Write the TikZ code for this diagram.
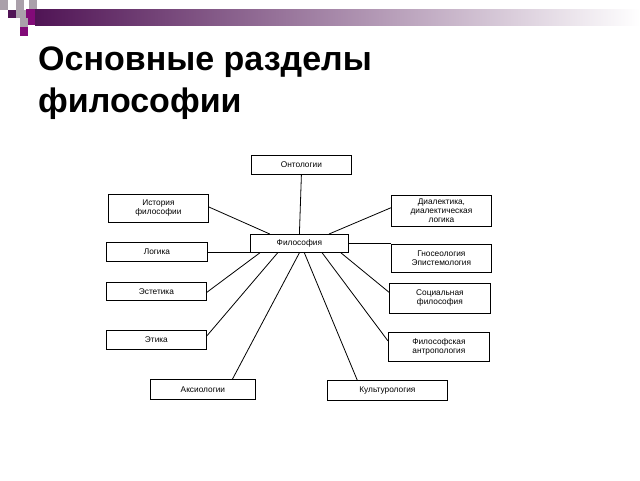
\documentclass[tikz,border=0pt]{standalone}
\usepackage{fontspec}
\setmainfont{Liberation Sans}
\usetikzlibrary{calc}
\definecolor{plum}{RGB}{80,20,85}
\definecolor{sq}{RGB}{130,10,120}
\definecolor{gr}{RGB}{170,160,170}
\begin{document}
\begin{tikzpicture}[x=1pt,y=-1pt,
  box/.style={draw,thick,minimum height=#1,inner sep=1pt,font=\fontsize{8.3}{9}\selectfont,align=center,anchor=north west},
  box/.default=19pt,
  ln/.style={thick}]
\useasboundingbox (0,0) rectangle (640,480);
\fill[white] (0,0) rectangle (640,480);
\shade[left color=plum,right color=white] (35,9) rectangle (640,25);
\fill[gr] (0,0) rectangle (8,10);
\fill[plum] (8,10) rectangle (16,18);
\fill[gr] (16,0) rectangle (24,10);
\fill[gr] (29,0) rectangle (37,9);
\fill[gr] (16,10) rectangle (26,18);
\fill[sq] (26,9) rectangle (35,25);
\fill[gr] (20,18) rectangle (28,27);
\fill[sq] (20,27) rectangle (28,36);
\node[anchor=west,inner sep=0pt,font=\bfseries\fontsize{34}{42}\selectfont,align=left] (title) at (38,83) {Основные разделы\\философии};
\node[box,minimum width=100pt] (ont) at (251,155) {Онтологии};
\node[box=28pt,minimum width=100pt] (ist) at (108,194) {История\\философии};
\node[box=31pt,minimum width=100pt] (dia) at (391,195) {Диалектика,\\диалектическая\\логика};
\node[box=18pt,minimum width=98pt] (phil) at (250,234) {Философия};
\node[box,minimum width=101pt] (log) at (106,242) {Логика};
\node[box=28pt,minimum width=100pt] (gno) at (391,244) {Гносеология\\Эпистемология};
\node[box=18pt,minimum width=100pt] (est) at (106,282) {Эстетика};
\node[box=30pt,minimum width=101pt] (soc) at (389,283) {Социальная\\философия};
\node[box,minimum width=100pt] (eti) at (106,330) {Этика};
\node[box=29pt,minimum width=101pt] (ant) at (388,332) {Философская\\антропология};
\node[box=20pt,minimum width=105pt] (aks) at (150,379) {Аксиологии};
\node[box=20pt,minimum width=120pt] (kul) at (327,380) {Культурология};
\draw[ln] (ont.south) -- (phil.north);
\draw[ln] ($(ist.north east)!0.45!(ist.south east)$) -- ($(phil.north west)!0.2!(phil.north east)$);
\draw[ln] ($(dia.north west)!0.4!(dia.south west)$) -- ($(phil.north west)!0.8!(phil.north east)$);
\draw[ln] (log.east) -- (log.east -| phil.west);
\draw[ln] (phil.east) -- (phil.east -| gno.west);
\draw[ln] ($(est.north east)!0.55!(est.south east)$) -- ($(phil.south west)!0.1!(phil.south east)$);
\draw[ln] ($(eti.north east)!0.3!(eti.south east)$) -- ($(phil.south west)!0.28!(phil.south east)$);
\draw[ln] ($(aks.north west)!0.78!(aks.north east)$) -- ($(phil.south west)!0.5!(phil.south east)$);
\draw[ln] ($(kul.north west)!0.25!(kul.north east)$) -- ($(phil.south west)!0.55!(phil.south east)$);
\draw[ln] ($(soc.north west)!0.3!(soc.south west)$) -- ($(phil.south west)!0.92!(phil.south east)$);
\draw[ln] ($(ant.north west)!0.3!(ant.south west)$) -- ($(phil.south west)!0.73!(phil.south east)$);
\end{tikzpicture}
\end{document}
